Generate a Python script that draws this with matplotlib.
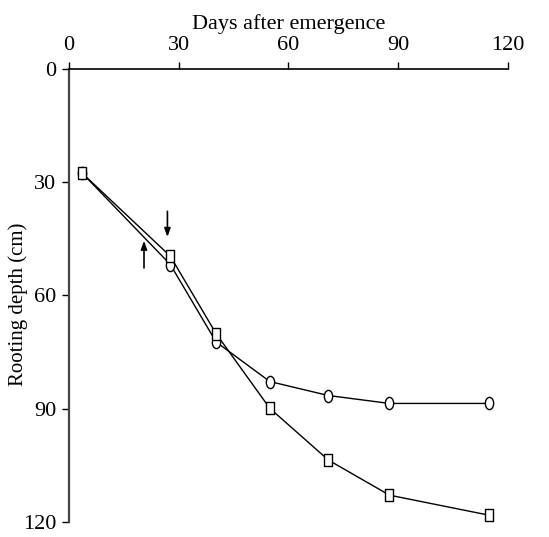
import matplotlib
matplotlib.use("Agg")
import matplotlib.pyplot as plt
from matplotlib.path import Path
from matplotlib.transforms import Affine2D

plt.rcParams['font.family'] = ['Liberation Serif', 'DejaVu Serif']

# days after emergence
days = [3.5, 27.7, 40.2, 54.9, 70.9, 87.6, 114.8]
# rooting depth (cm) for the two treatments
depth_circle = [27.5, 51.8, 72.3, 82.8, 86.5, 88.6, 88.6]
depth_square = [27.5, 49.6, 70.1, 89.9, 103.6, 112.9, 118.2]

# arrows (x, y_start, y_end)
arrow_down = (26.9, 37.7, 44.5)
arrow_up = (20.5, 52.7, 45.5)

xticks = [0, 30, 60, 90, 120]
yticks = [0, 30, 60, 90, 120]

# slightly tall markers like in the original scan
ellipse = Path.unit_circle().transformed(Affine2D().scale(0.68, 1.0))
rect = Path.unit_rectangle().transformed(Affine2D().translate(-0.5, -0.5).scale(0.65, 1.0))

fig = plt.figure(figsize=(5.49, 5.37), dpi=100)
ax = fig.add_axes([0.1257, 0.028, 0.7996, 0.8435])

ax.plot(days, depth_circle, color='black', lw=1.0, marker=ellipse, ms=8.8,
        mfc='white', mec='black', mew=1.0, zorder=3)
ax.plot(days, depth_square, color='black', lw=1.0, marker=rect, ms=8.2,
        mfc='white', mec='black', mew=1.0, zorder=3)

for x, y0, y1 in [arrow_down, arrow_up]:
    ax.annotate('', xy=(x, y1), xytext=(x, y0),
                arrowprops=dict(arrowstyle='-|>,head_length=0.5,head_width=0.18',
                                color='black', lw=1.2, shrinkA=0, shrinkB=0))

ax.set_xlim(0, 120)
ax.set_ylim(120, 0)
ax.set_xticks(xticks)
ax.set_yticks(yticks)
ax.xaxis.tick_top()
ax.xaxis.set_label_position('top')
ax.set_xlabel('Days after emergence', fontsize=16, labelpad=5)
ax.set_ylabel('Rooting depth (cm)', fontsize=15)
ax.yaxis.set_label_coords(-0.094, 0.48)
ax.tick_params(axis='both', direction='out', length=5, width=1.0, labelsize=16)
ax.tick_params(axis='x', pad=5)
ax.tick_params(axis='y', pad=4)

ax.spines['right'].set_visible(False)
ax.spines['bottom'].set_visible(False)
ax.spines['top'].set_linewidth(1.2)
ax.spines['left'].set_linewidth(1.6)
ax.spines['left'].set_color('#444444')

fig.savefig('out.png', dpi=100)
